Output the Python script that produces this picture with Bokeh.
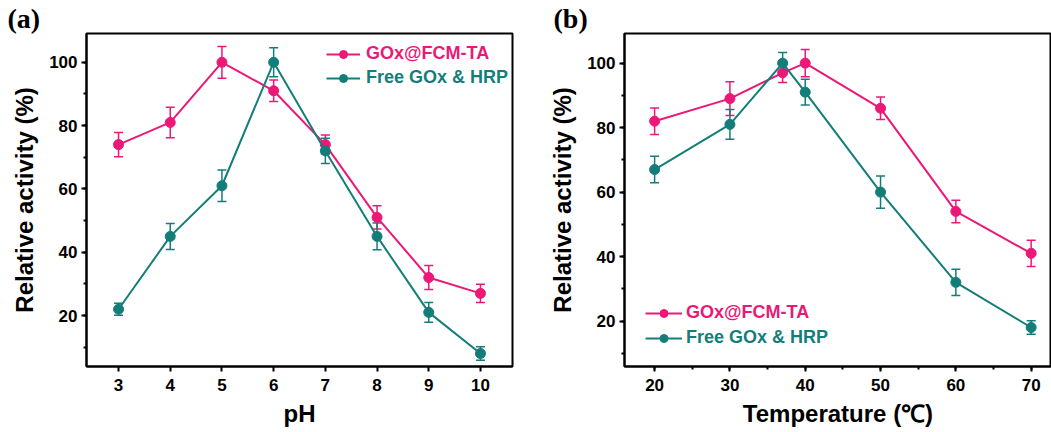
from bokeh.plotting import figure
from bokeh.layouts import row
from bokeh.models import (ColumnDataSource, Whisker, TeeHead, Legend, LegendItem,
                          SingleIntervalTicker, Range1d, Title)
from bokeh.embed import file_html
from bokeh.resources import INLINE

# ---- data (a): pH ----
ph = [3, 4, 5, 6, 7, 8, 9, 10]
ph_gox = [74, 81, 100, 91, 74, 51, 32, 27]
ph_gox_err = [3.8, 4.8, 5, 3.4, 3, 3.7, 3.8, 2.9]
ph_free = [22, 45, 61, 100, 72, 45, 21, 8]
ph_free_err = [1.9, 4.1, 5, 4.6, 4, 4.2, 3.1, 2.1]

# ---- data (b): temperature ----
temp = [20, 30, 37, 40, 50, 60, 70]
t_gox = [82, 89, 97, 100, 86, 54, 41]
t_gox_err = [4.1, 5.2, 3, 4.2, 3.5, 3.5, 4.1]
t_free = [67, 81, 100, 91, 60, 32, 18]
t_free_err = [4.1, 4.6, 3.3, 4, 5, 4.1, 2.1]

labels = ["GOx@FCM-TA", "Free GOx & HRP"]
PINK = "#EC1878"
TEAL = "#137E79"
FONT = "Liberation Sans"


def style(p, xtick, xminor, ylabel, xlabel):
    p.xgrid.visible = False
    p.ygrid.visible = False
    p.outline_line_color = "black"
    p.outline_line_width = 2
    p.xaxis.ticker = SingleIntervalTicker(interval=xtick, num_minor_ticks=xminor)
    p.yaxis.ticker = SingleIntervalTicker(interval=20, num_minor_ticks=2)
    for ax in (p.xaxis, p.yaxis):
        ax.axis_line_width = 2
        ax.major_tick_line_width = 2
        ax.minor_tick_line_width = 2
        ax.major_tick_in = 0
        ax.major_tick_out = 5
        ax.minor_tick_in = 0
        ax.minor_tick_out = 3
        ax.major_label_text_font = FONT
        ax.major_label_text_font_style = "bold"
        ax.major_label_text_font_size = "17px"
        ax.major_label_text_color = "black"
        ax.axis_label_text_font = FONT
        ax.axis_label_text_font_style = "bold"
        ax.axis_label_text_font_size = "24px"
        ax.axis_label_text_color = "black"
    p.xaxis.major_label_standoff = 7
    p.yaxis.major_label_standoff = 4
    p.xaxis.axis_label_standoff = 6
    p.yaxis.axis_label_standoff = 8
    p.xaxis.axis_label = xlabel
    p.yaxis.axis_label = ylabel


def series(p, x, y, err, color):
    src = ColumnDataSource(dict(x=x, y=y,
                                upper=[a + e for a, e in zip(y, err)],
                                lower=[a - e for a, e in zip(y, err)]))
    w = Whisker(source=src, base="x", upper="upper", lower="lower",
                line_color=color, line_width=1.5,
                upper_head=TeeHead(size=9, line_color=color, line_width=1.5),
                lower_head=TeeHead(size=9, line_color=color, line_width=1.5))
    p.add_layout(w)
    ln = p.line("x", "y", source=src, line_color=color, line_width=2)
    mk = p.scatter("x", "y", source=src, size=10, fill_color=color, line_color=color)
    return [ln, mk]


def add_legends(p, rends, locs, glyph_w, standoff):
    for (r, lab, col, loc) in zip(rends, labels, [PINK, TEAL], locs):
        lg = Legend(items=[LegendItem(label=lab, renderers=r)], location=loc,
                    glyph_width=glyph_w, glyph_height=20, label_height=20,
                    label_standoff=standoff, padding=0, margin=0, spacing=0,
                    border_line_alpha=0, background_fill_alpha=0,
                    label_text_font=FONT, label_text_font_style="bold",
                    label_text_font_size="18px", label_text_color=col)
        p.add_layout(lg)


def panel_title(text, offset):
    return Title(text=text, align="left", offset=offset, standoff=0,
                 text_font="Liberation Serif", text_font_style="bold",
                 text_font_size="28px", text_color="black")


# ---- panel (a) ----
pa = figure(width=530, height=432, x_range=Range1d(2.38, 10.62), y_range=Range1d(3.9, 109.1),
            output_backend="svg", toolbar_location=None,
            title=panel_title("(a)", -79),
            min_border_left=86, min_border_right=18, min_border_top=32, min_border_bottom=66)
style(pa, 1, 0, "Relative activity (%)", "pH")
ra1 = series(pa, ph, ph_gox, ph_gox_err, PINK)
ra2 = series(pa, ph, ph_free, ph_free_err, TEAL)
add_legends(pa, [ra1, ra2], [(240, 302), (240, 278)], 34, 6)

# ---- panel (b) ----
pb = figure(width=521, height=432, x_range=Range1d(16.0, 72.7), y_range=Range1d(5.9, 109.2),
            output_backend="svg", toolbar_location=None,
            title=panel_title("(b)", -71),
            min_border_left=94, min_border_right=0, min_border_top=32, min_border_bottom=63)
style(pb, 10, 2, "Relative activity (%)", "Temperature (\u2103)")
rb1 = series(pb, temp, t_gox, t_gox_err, PINK)
rb2 = series(pb, temp, t_free, t_free_err, TEAL)
add_legends(pb, [rb1, rb2], [(21, 43), (21, 18)], 37, 4)

layout = row(pa, pb)
open("out.html", "w").write(file_html(layout, INLINE))
